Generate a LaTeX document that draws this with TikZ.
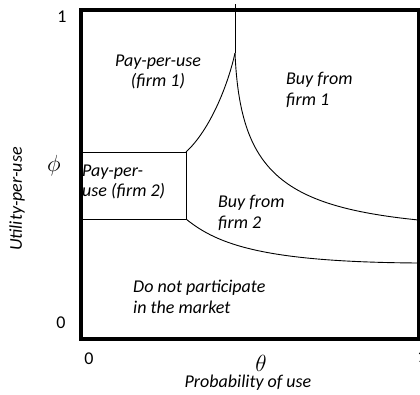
\documentclass[tikz,border=0pt]{standalone}
\usepackage{fontspec}
\setmainfont{Carlito}
\usetikzlibrary{positioning}

\begin{document}
\begin{tikzpicture}[
    x=1pt, y=-1pt,
    every node/.style={font=\fontsize{18}{20.5}\selectfont, inner sep=0pt},
    region/.style={align=left, font=\fontsize{18}{20.5}\selectfont\itshape},
    symb/.style={scale=1.35},
    boundary/.style={line width=0.9pt}
]
\useasboundingbox (0,0) rectangle (420,394);

% Corners of the unit square
\coordinate (O) at (80.5,339);
\coordinate (T) at (80.5,10);
\coordinate (R) at (418.5,339);
\coordinate (TR) at (418.5,10);

% Kink points of the boundaries
\coordinate (cusp) at (235,53);
\coordinate (top) at (235,4);
\coordinate (a) at (186,152);
\coordinate (b) at (186,219);
\coordinate (aL) at (80.5,152);
\coordinate (bL) at (80.5,219);
\coordinate (e1) at (418.5,220);
\coordinate (e2) at (418.5,263);

% Region boundaries
\draw[boundary] (top) -- (cusp);
\draw[boundary] (a) .. controls (210,130) and (228,85) .. (cusp);
\draw[boundary] (cusp) .. controls (240,170) and (280,206) .. (e1);
\draw[boundary] (aL) -- (a) -- (b) -- (bL);
\draw[boundary] (b) .. controls (218,245) and (265,262) .. (e2);

% Frame
\draw[line width=4pt] (O) rectangle (TR);

% Axis labels
\node (one y) at (62,17) {1};
\node (zero y) at (61,323) {0};
\node (zero x) at (89,359) {0};
\node (one x) at (422,357) {1};
\node[symb] (phi) at (54,166) {$\phi$};
\node[symb] (theta) at (261,363) {$\theta$};
\node (xlab) at (248,383) {\itshape Probability of use};
\node[rotate=90] (ylab) at (17,199) {\itshape Utility-per-use};

% Region labels
\node[region, align=center] (ppu1) at (158,72) {Pay-per-use\\(firm 1)};
\node[region, anchor=west] (buy1) at (286,90) {Buy from\\firm 1};
\node[region, anchor=west] (ppu2) at (82,182) {Pay-per-\\use (firm 2)};
\node[region, anchor=west] (buy2) at (218,213) {Buy from\\firm 2};
\node[region, anchor=west] (none) at (133,297) {Do not participate\\in the market};
\end{tikzpicture}
\end{document}
